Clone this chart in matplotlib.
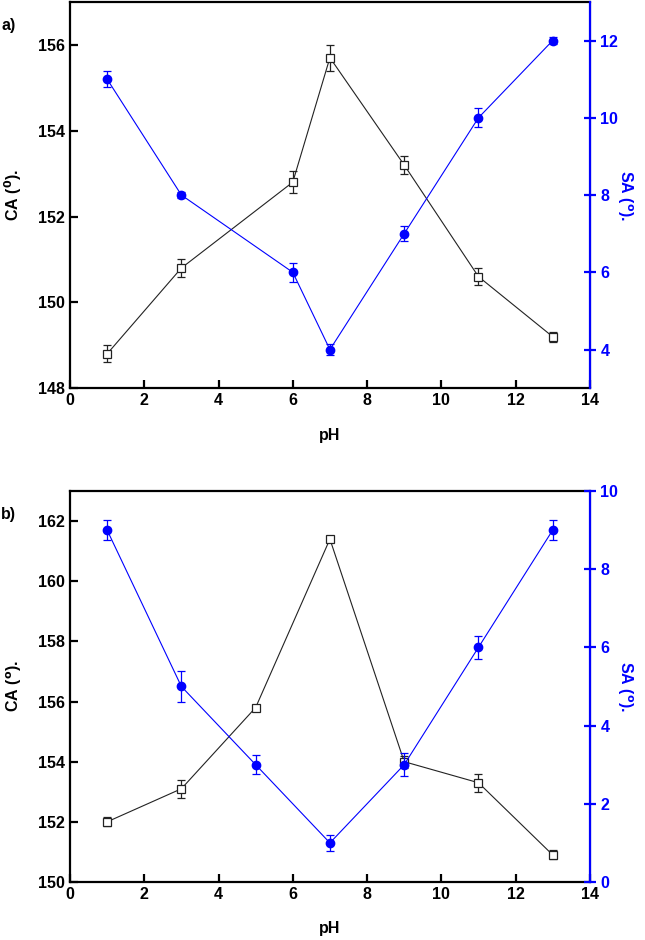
import matplotlib.pyplot as plt

plt.rcParams['font.family'] = ['Liberation Sans', 'DejaVu Sans']
plt.rcParams['font.weight'] = 'bold'
plt.rcParams['mathtext.default'] = 'bf'

# panel a
ph_a = [1, 3, 6, 7, 9, 11, 13]
ca_a = [148.8, 150.8, 152.8, 155.7, 153.2, 150.6, 149.2]
ca_a_err = [0.2, 0.2, 0.25, 0.3, 0.2, 0.2, 0.12]
sa_a = [11, 8, 6, 4, 7, 10, 12]
sa_a_err = [0.2, 0.08, 0.25, 0.15, 0.2, 0.25, 0.1]

# panel b
ph_b = [1, 3, 5, 7, 9, 11, 13]
ca_b = [152.0, 153.1, 155.8, 161.4, 154.0, 153.3, 150.9]
ca_b_err = [0.15, 0.3, 0.08, 0.08, 0.2, 0.3, 0.15]
sa_b = [9, 5, 3, 1, 3, 6, 9]
sa_b_err = [0.25, 0.4, 0.25, 0.2, 0.3, 0.3, 0.25]

blue = '#0000ff'


def panel(fig, rect, ph, ca, ca_err, sa, sa_err, ca_lim, ca_ticks, sa_lim, sa_ticks,
          ca_label, tag):
    ax = fig.add_axes(rect)
    ax2 = ax.twinx()
    ax.errorbar(ph, ca, yerr=ca_err, color='#222222', lw=0.8, marker='s', ms=5.5,
                mfc='white', mec='#222222', mew=0.9, capsize=3, elinewidth=0.9,
                capthick=0.9, zorder=3)
    ax2.errorbar(ph, sa, yerr=sa_err, color=blue, lw=0.8, marker='o', ms=6,
                 mfc=blue, mec=blue, capsize=3, elinewidth=0.9, capthick=0.9,
                 ecolor=blue)
    ax.set_xlim(0, 14)
    ax.set_xticks(range(0, 15, 2))
    ax.set_ylim(*ca_lim)
    ax.set_yticks(ca_ticks)
    ax2.set_ylim(*sa_lim)
    ax2.set_yticks(sa_ticks)
    for s in ['left', 'bottom', 'top']:
        ax.spines[s].set_linewidth(1.6)
    ax2.spines['right'].set_color(blue)
    ax2.spines['right'].set_linewidth(1.6)
    for s in ['left', 'bottom', 'top']:
        ax2.spines[s].set_visible(False)
    ax.tick_params(axis='both', direction='in', length=6, width=1.6, labelsize=11.5,
                   right=False, top=False)
    ax2.tick_params(axis='y', direction='inout', length=8, width=1.6, colors=blue,
                    labelsize=11.5)
    ax.set_xlabel('pH', fontsize=11.5, fontweight='bold', labelpad=14)
    ax.set_ylabel(ca_label, fontsize=11.5, fontweight='bold', labelpad=10)
    ax2.set_ylabel(r'SA ($^o$).', fontsize=11.5, fontweight='bold', color=blue,
                   rotation=270, labelpad=12)
    fig.text(0.002, rect[1] + rect[3] - 0.03, tag, fontsize=11.5, fontweight='bold')
    return ax


fig = plt.figure(figsize=(6.45, 9.4), dpi=100)
panel(fig, [0.1085, 0.587, 0.806, 0.411], ph_a, ca_a, ca_a_err, sa_a, sa_a_err,
      (148, 157), [148, 150, 152, 154, 156], (3, 13), [4, 6, 8, 10, 12],
      r'CA ($^0$).', 'a)')
panel(fig, [0.1085, 0.0617, 0.806, 0.416], ph_b, ca_b, ca_b_err, sa_b, sa_b_err,
      (150, 163), [150, 152, 154, 156, 158, 160, 162], (0, 10), [0, 2, 4, 6, 8, 10],
      r'CA ($^o$).', 'b)')
fig.savefig('out.png', dpi=100)
